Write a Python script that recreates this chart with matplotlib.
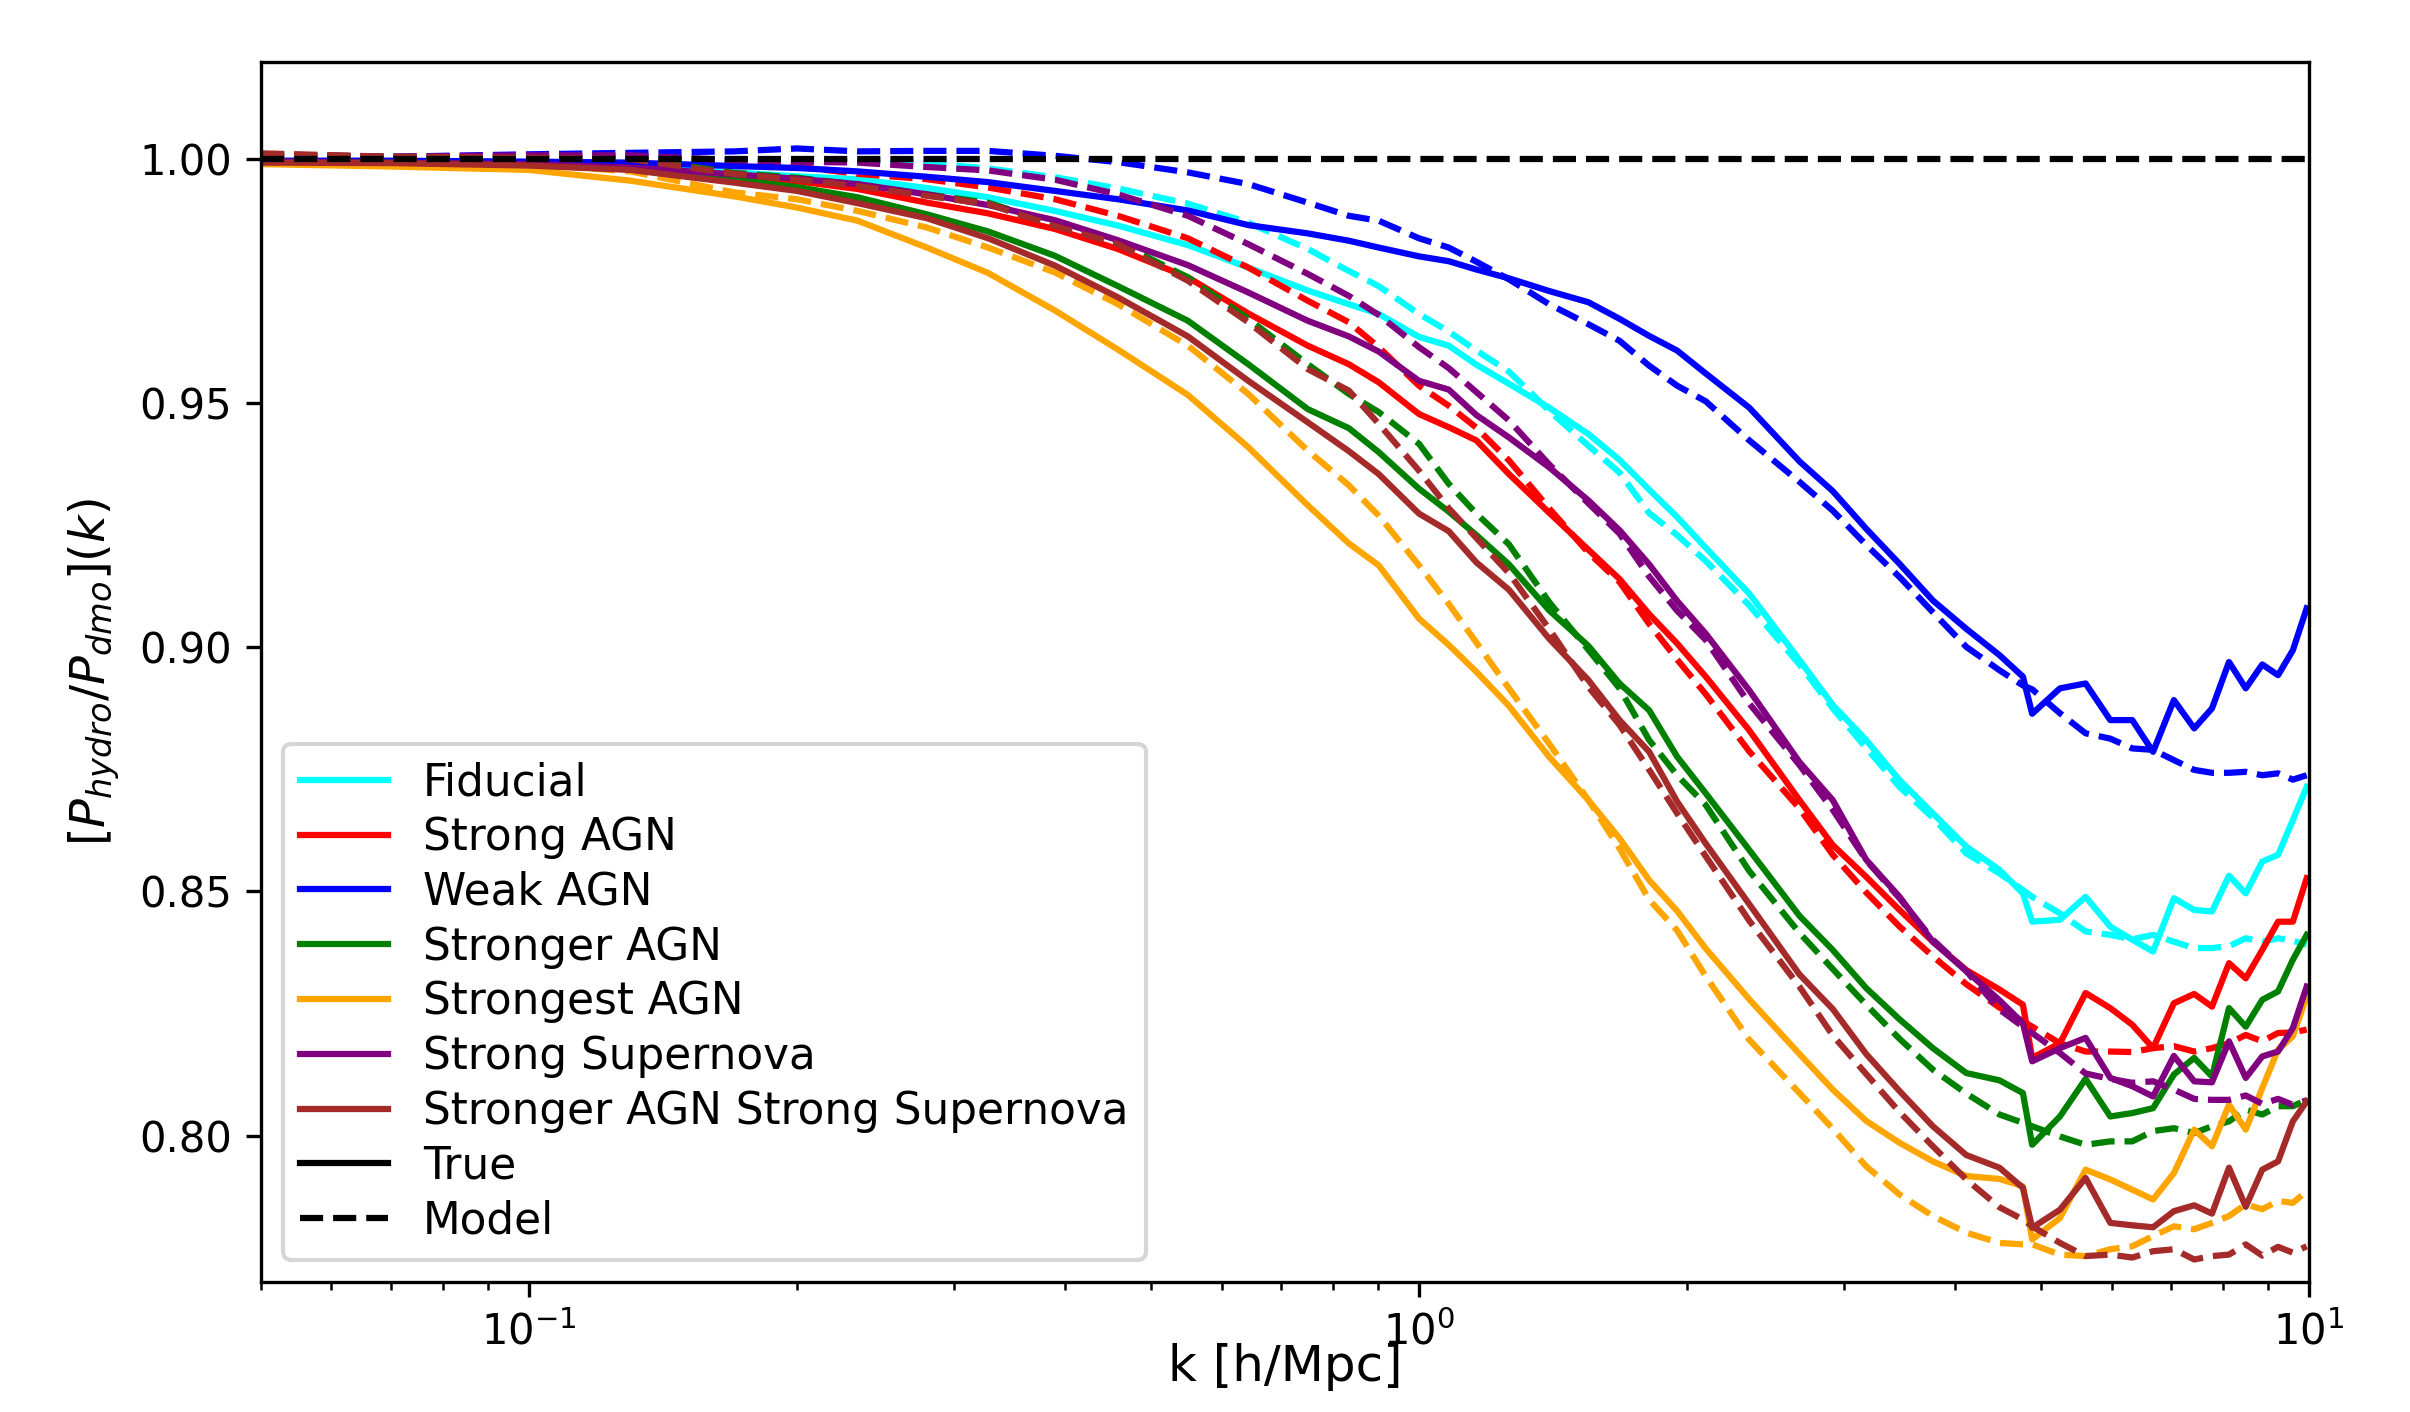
import matplotlib
matplotlib.use("Agg")
import matplotlib.pyplot as plt
from matplotlib.lines import Line2D

# wavenumbers k [h/Mpc]
k = [0.05, 0.07, 0.1, 0.13, 0.17, 0.2, 0.234, 0.28, 0.328, 0.39, 0.459, 0.55, 0.643, 0.75, 0.834,
     0.901, 1.0, 1.08, 1.16, 1.262, 1.4, 1.55, 1.68, 1.814, 1.95, 2.1, 2.35, 2.676, 2.917, 3.18,
     3.467, 3.779, 4.12, 4.49, 4.77, 4.886, 5.25, 5.61, 5.98, 6.33, 6.68, 7.05, 7.43, 7.78, 8.13,
     8.49, 8.86, 9.23, 9.59, 9.94]

names = ["Fiducial", "Strong AGN", "Weak AGN", "Stronger AGN", "Strongest AGN",
         "Strong Supernova", "Stronger AGN Strong Supernova"]
colors = ["cyan", "red", "blue", "green", "orange", "purple", "brown"]

fiducial_true = [0.9995, 0.9993, 0.9990, 0.9985, 0.9973, 0.9965, 0.9959, 0.9941, 0.9922, 0.9894, 0.9864,
                 0.9824, 0.9778, 0.9731, 0.9703, 0.9683, 0.9636, 0.9618, 0.9579, 0.9540, 0.9491, 0.9437,
                 0.9384, 0.9323, 0.9267, 0.9204, 0.9110, 0.8974, 0.8882, 0.8810, 0.8728, 0.8660, 0.8592,
                 0.8544, 0.8496, 0.8438, 0.8442, 0.8489, 0.8428, 0.8401, 0.8377, 0.8486, 0.8462, 0.8459,
                 0.8532, 0.8496, 0.8561, 0.8575, 0.8646, 0.8714]
fiducial_model = [1.0005, 1.0003, 1.0002, 1.0005, 0.9998, 1.0000, 0.9997, 0.9992, 0.9981, 0.9963, 0.9940,
                  0.9909, 0.9870, 0.9816, 0.9771, 0.9740, 0.9683, 0.9647, 0.9608, 0.9565, 0.9485, 0.9413,
                  0.9358, 0.9275, 0.9230, 0.9177, 0.9086, 0.8965, 0.8875, 0.8794, 0.8714, 0.8651, 0.8578,
                  0.8537, 0.8503, 0.8489, 0.8455, 0.8418, 0.8411, 0.8402, 0.8411, 0.8397, 0.8384, 0.8384,
                  0.8388, 0.8404, 0.8397, 0.8404, 0.8399, 0.8391]

strong_agn_true = [0.9995, 0.9993, 0.9988, 0.9982, 0.9966, 0.9955, 0.9939, 0.9911, 0.9889, 0.9857, 0.9816,
                   0.9758, 0.9684, 0.9618, 0.9580, 0.9543, 0.9478, 0.9451, 0.9424, 0.9355, 0.9276, 0.9200,
                   0.9140, 0.9068, 0.9008, 0.8940, 0.8830, 0.8687, 0.8595, 0.8530, 0.8462, 0.8397, 0.8339,
                   0.8299, 0.8268, 0.8159, 0.8189, 0.8292, 0.8261, 0.8227, 0.8179, 0.8271, 0.8290, 0.8264,
                   0.8353, 0.8322, 0.8380, 0.8438, 0.8438, 0.8527]
strong_agn_model = [1.0005, 1.0003, 1.0003, 1.0003, 0.9986, 0.9985, 0.9970, 0.9959, 0.9942, 0.9918, 0.9884,
                    0.9838, 0.9778, 0.9710, 0.9666, 0.9615, 0.9536, 0.9495, 0.9450, 0.9383, 0.9285, 0.9194,
                    0.9134, 0.9048, 0.8975, 0.8904, 0.8787, 0.8670, 0.8575, 0.8498, 0.8428, 0.8367, 0.8310,
                    0.8262, 0.8234, 0.8223, 0.8189, 0.8172, 0.8172, 0.8171, 0.8179, 0.8183, 0.8172, 0.8179,
                    0.8189, 0.8206, 0.8193, 0.8210, 0.8211, 0.8217]

weak_agn_true = [0.9997, 0.9997, 0.9995, 0.9993, 0.9986, 0.9982, 0.9975, 0.9964, 0.9953, 0.9935, 0.9918,
                 0.9895, 0.9865, 0.9848, 0.9833, 0.9819, 0.9801, 0.9791, 0.9774, 0.9756, 0.9730, 0.9707,
                 0.9673, 0.9638, 0.9608, 0.9561, 0.9491, 0.9381, 0.9320, 0.9243, 0.9171, 0.9096, 0.9038,
                 0.8984, 0.8940, 0.8864, 0.8916, 0.8926, 0.8851, 0.8851, 0.8786, 0.8892, 0.8834, 0.8875,
                 0.8970, 0.8916, 0.8965, 0.8943, 0.8994, 0.9080]
weak_agn_model = [1.0008, 1.0005, 1.0010, 1.0013, 1.0016, 1.0022, 1.0016, 1.0017, 1.0017, 1.0007, 0.9994,
                  0.9973, 0.9949, 0.9911, 0.9884, 0.9874, 0.9838, 0.9819, 0.9790, 0.9754, 0.9703, 0.9662,
                  0.9628, 0.9577, 0.9536, 0.9504, 0.9424, 0.9339, 0.9280, 0.9210, 0.9144, 0.9072, 0.9001,
                  0.8953, 0.8922, 0.8914, 0.8865, 0.8824, 0.8813, 0.8793, 0.8790, 0.8769, 0.8749, 0.8743,
                  0.8743, 0.8745, 0.8738, 0.8742, 0.8729, 0.8738]

stronger_agn_true = [0.9995, 0.9993, 0.9988, 0.9980, 0.9959, 0.9943, 0.9922, 0.9887, 0.9852, 0.9802, 0.9740,
                     0.9669, 0.9580, 0.9488, 0.9449, 0.9400, 0.9325, 0.9278, 0.9230, 0.9170, 0.9076, 0.9003,
                     0.8926, 0.8871, 0.8776, 0.8701, 0.8585, 0.8450, 0.8380, 0.8302, 0.8238, 0.8179, 0.8128,
                     0.8113, 0.8087, 0.7981, 0.8039, 0.8116, 0.8039, 0.8046, 0.8056, 0.8125, 0.8159, 0.8121,
                     0.8261, 0.8223, 0.8278, 0.8295, 0.8360, 0.8411]
stronger_agn_model = [1.0010, 1.0005, 1.0005, 1.0003, 0.9972, 0.9962, 0.9948, 0.9928, 0.9911, 0.9867, 0.9829,
                      0.9758, 0.9673, 0.9580, 0.9519, 0.9482, 0.9417, 0.9335, 0.9274, 0.9211, 0.9093, 0.8995,
                      0.8916, 0.8810, 0.8738, 0.8677, 0.8542, 0.8415, 0.8341, 0.8268, 0.8198, 0.8135, 0.8086,
                      0.8043, 0.8026, 0.8019, 0.7998, 0.7981, 0.7988, 0.7988, 0.8009, 0.8015, 0.8005, 0.8019,
                      0.8029, 0.8053, 0.8043, 0.8060, 0.8060, 0.8073]

strongest_agn_true = [0.9990, 0.9985, 0.9978, 0.9956, 0.9924, 0.9901, 0.9874, 0.9819, 0.9767, 0.9690, 0.9610,
                      0.9517, 0.9410, 0.9291, 0.9213, 0.9168, 0.9059, 0.9005, 0.8950, 0.8880, 0.8776, 0.8687,
                      0.8609, 0.8523, 0.8460, 0.8383, 0.8279, 0.8167, 0.8094, 0.8030, 0.7985, 0.7947, 0.7917,
                      0.7911, 0.7896, 0.7787, 0.7831, 0.7930, 0.7910, 0.7889, 0.7869, 0.7923, 0.8012, 0.7978,
                      0.8063, 0.8012, 0.8097, 0.8176, 0.8203, 0.8285]
strongest_agn_model = [1.0005, 1.0000, 0.9990, 0.9975, 0.9932, 0.9918, 0.9894, 0.9860, 0.9819, 0.9768, 0.9703,
                       0.9618, 0.9519, 0.9403, 0.9332, 0.9270, 0.9168, 0.9089, 0.9010, 0.8916, 0.8803, 0.8687,
                       0.8588, 0.8483, 0.8420, 0.8326, 0.8196, 0.8087, 0.8014, 0.7937, 0.7879, 0.7835, 0.7801,
                       0.7780, 0.7777, 0.7777, 0.7756, 0.7753, 0.7767, 0.7773, 0.7794, 0.7814, 0.7808, 0.7821,
                       0.7835, 0.7859, 0.7849, 0.7866, 0.7862, 0.7886]

strong_sn_true = [0.9995, 0.9993, 0.9990, 0.9983, 0.9969, 0.9960, 0.9949, 0.9928, 0.9906, 0.9875, 0.9834,
                  0.9783, 0.9727, 0.9669, 0.9637, 0.9606, 0.9546, 0.9528, 0.9476, 0.9430, 0.9369, 0.9301,
                  0.9240, 0.9170, 0.9095, 0.9028, 0.8912, 0.8765, 0.8687, 0.8565, 0.8489, 0.8397, 0.8337,
                  0.8277, 0.8230, 0.8152, 0.8179, 0.8200, 0.8118, 0.8101, 0.8080, 0.8163, 0.8111, 0.8109,
                  0.8193, 0.8118, 0.8162, 0.8172, 0.8220, 0.8305]
strong_sn_model = [1.0010, 1.0005, 1.0008, 1.0008, 0.9998, 0.9995, 0.9993, 0.9984, 0.9977, 0.9958, 0.9928,
                   0.9884, 0.9826, 0.9765, 0.9720, 0.9681, 0.9615, 0.9572, 0.9523, 0.9465, 0.9375, 0.9295,
                   0.9233, 0.9145, 0.9075, 0.9015, 0.8885, 0.8759, 0.8667, 0.8564, 0.8486, 0.8401, 0.8337,
                   0.8258, 0.8223, 0.8210, 0.8169, 0.8127, 0.8116, 0.8108, 0.8111, 0.8094, 0.8075, 0.8073,
                   0.8073, 0.8082, 0.8065, 0.8075, 0.8063, 0.8072]

agn_sn_true = [0.9993, 0.9992, 0.9987, 0.9978, 0.9952, 0.9935, 0.9910, 0.9879, 0.9838, 0.9782, 0.9717,
               0.9637, 0.9546, 0.9461, 0.9402, 0.9355, 0.9274, 0.9238, 0.9174, 0.9118, 0.9018, 0.8933,
               0.8851, 0.8786, 0.8684, 0.8598, 0.8474, 0.8330, 0.8259, 0.8167, 0.8091, 0.8019, 0.7960,
               0.7934, 0.7893, 0.7811, 0.7848, 0.7913, 0.7821, 0.7816, 0.7812, 0.7845, 0.7857, 0.7840,
               0.7934, 0.7854, 0.7930, 0.7947, 0.8029, 0.8070]
agn_sn_model = [1.0012, 1.0005, 1.0003, 1.0000, 0.9970, 0.9958, 0.9945, 0.9925, 0.9908, 0.9863, 0.9826,
                0.9751, 0.9666, 0.9570, 0.9526, 0.9458, 0.9362, 0.9285, 0.9224, 0.9152, 0.9038, 0.8919,
                0.8841, 0.8749, 0.8660, 0.8572, 0.8440, 0.8305, 0.8205, 0.8126, 0.8048, 0.7978, 0.7910,
                0.7853, 0.7828, 0.7814, 0.7780, 0.7753, 0.7756, 0.7750, 0.7763, 0.7767, 0.7746, 0.7753,
                0.7756, 0.7777, 0.7754, 0.7772, 0.7760, 0.7773]

true_series = [fiducial_true, strong_agn_true, weak_agn_true, stronger_agn_true,
               strongest_agn_true, strong_sn_true, agn_sn_true]
model_series = [fiducial_model, strong_agn_model, weak_agn_model, stronger_agn_model,
                strongest_agn_model, strong_sn_model, agn_sn_model]

fig = plt.figure(figsize=(2410 / 300, 1412 / 300), dpi=300)
ax = fig.add_axes([0.1083, 0.0921, 0.8498, 0.8643])

for name, c, t, m in zip(names, colors, true_series, model_series):
    ax.plot(k, t, color=c, lw=1.5, label=name)
    ax.plot(k, m, color=c, lw=1.5, ls="--")

ax.axhline(1.0, color="black", ls="--", lw=1.5)

ax.set_xscale("log")
ax.set_xlim(0.05, 10)
ax.set_ylim(0.77, 1.02)
ax.set_yticks([0.80, 0.85, 0.90, 0.95, 1.00])
ax.tick_params(labelsize=10)
ax.set_xlabel("k [h/Mpc]", fontsize=12)
ax.xaxis.set_label_coords(0.5, -0.05)
ax.set_ylabel(r"$[P_{hydro}/P_{dmo}](k)$", fontsize=11.5)

handles, labels = ax.get_legend_handles_labels()
handles += [Line2D([0], [0], color="black", lw=1.5),
            Line2D([0], [0], color="black", lw=1.5, ls="--")]
labels += ["True", "Model"]
ax.legend(handles, labels, loc="lower left", fontsize=10.5, labelspacing=0.27)

fig.savefig("out.png", dpi=300)
